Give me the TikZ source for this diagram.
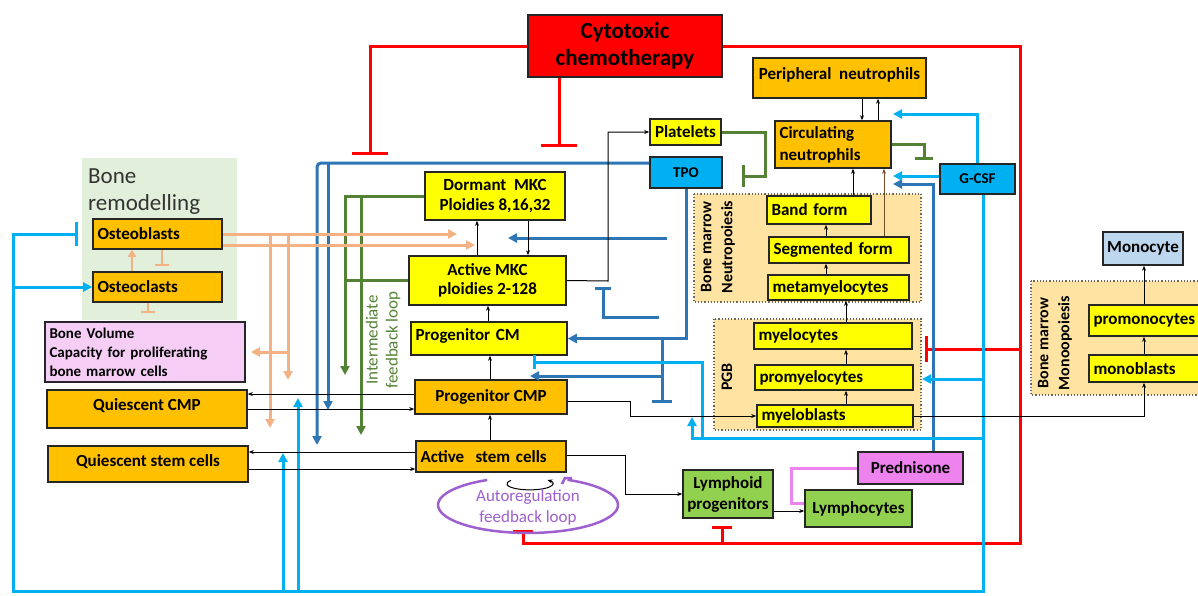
\documentclass[tikz,border=0pt]{standalone}
\usepackage{fontspec}
\setmainfont{Carlito}
\usetikzlibrary{arrows.meta,calc}
\definecolor{redC}{HTML}{FF0000}
\definecolor{orC}{HTML}{FFC000}
\definecolor{yelC}{HTML}{FFFF00}
\definecolor{cyanC}{HTML}{00B0F0}
\definecolor{sbC}{HTML}{2E75B6}
\definecolor{grC}{HTML}{548235}
\definecolor{pcC}{HTML}{F4B183}
\definecolor{lgC}{HTML}{92D050}
\definecolor{predC}{HTML}{EE82EE}
\definecolor{pinkC}{HTML}{F5CDF5}
\definecolor{monoC}{HTML}{BDD7EE}
\definecolor{boneC}{HTML}{E2EFDA}
\definecolor{bmC}{HTML}{FFE3A3}
\definecolor{puC}{HTML}{9E5FCF}
\definecolor{brdC}{HTML}{262626}
\newcommand\bx[7][]{%
  \pgfmathsetmacro\mybw{#5-#3}%
  \pgfmathsetmacro\mybh{#6-#4}%
  \pgfmathsetmacro\mycx{(#3+#5)/2}%
  \pgfmathsetmacro\mycy{(#4+#6)/2}%
  \pgfmathsetmacro\mytw{#5-#3-9}%
  \node[box,minimum width=\mybw pt,minimum height=\mybh pt,#1] (#2) at (\mycx,\mycy) {#7};}
\begin{document}
\begin{tikzpicture}[x=1pt,y=-1pt,
  box/.style={draw=brdC, line width=1.6pt, inner xsep=2pt, inner ysep=1pt, font=\bfseries\fontsize{17}{20}\selectfont, align=center, text=black},
  lt/.style={text width=\mytw pt, align=left},
  blk/.style={draw=black, line width=1pt, -{Stealth[length=5pt,width=4pt]}},
  arr/.style={-{Triangle[length=9pt,width=9pt]}},
  inh/.style={-{Bar[width=#1]}},
  rd/.style={draw=redC, line width=3pt},
  sb/.style={draw=sbC, line width=3pt},
  cy/.style={draw=cyanC, line width=3pt},
  gr/.style={draw=grC, line width=3pt},
  pc/.style={draw=pcC, line width=3pt},
  pk/.style={draw=predC, line width=3pt},
  bgbox/.style={draw=brdC!70, dotted, line width=1.2pt, fill=bmC},
  vlab/.style={rotate=90, font=\bfseries\fontsize{16}{21}\selectfont, align=center, inner sep=0pt}
]
\useasboundingbox (0,0) rectangle (1198,595);
\fill[white] (0,0) rectangle (1198,595);
% backgrounds
\fill[boneC] (82,158) rectangle (237,320);
\node[anchor=north west, align=left, inner sep=0pt, font=\fontsize{23}{27}\selectfont, text=black!80] (bonerem) at (88,169) {Bone\\remodelling};
\path[bgbox] (694,194) rectangle (921,302);
\path[bgbox] (714,319) rectangle (921,430);
\path[bgbox] (1031,281) rectangle (1210,395);
\node[vlab] (bmn) at (718,247) {Bone marrow\\Neutropoiesis};
\node[vlab] (pgb) at (727,377) {PGB};
\node[vlab] (bmm) at (1055,343) {Bone marrow\\Monoopoiesis};
\node[rotate=90, font=\fontsize{17}{20}\selectfont, align=center, text=grC, inner sep=0pt] (ifl) at (383,340) {Intermediate\\feedback loop};

% boxes
\bx[fill=redC,font=\bfseries\fontsize{23}{27}\selectfont]{chemo}{528}{15}{722}{77}{Cytotoxic\\chemotherapy}
\bx[fill=orC,lt]{osteob}{93}{219}{222}{249}{Osteoblasts}
\bx[fill=orC,lt]{osteoc}{93}{272}{222}{302}{Osteoclasts}
\bx[fill=pinkC,lt,font=\bfseries\fontsize{15}{19}\selectfont]{bonevol}{45}{322}{245}{382}{Bone Volume\\Capacity for proliferating\\bone marrow cells}
\bx[fill=orC,text depth=9pt]{qcmp}{47}{390}{247}{428}{Quiescent CMP}
\bx[fill=orC,text depth=7pt]{qsc}{48}{446}{248}{482}{Quiescent stem cells}
\bx[fill=yelC,font=\bfseries\fontsize{17}{20}\selectfont]{dmkc}{425}{172}{565}{220}{Dormant\ \ MKC\\Ploidies 8,16,32}
\bx[fill=yelC,font=\bfseries\fontsize{17}{19}\selectfont]{amkc}{409}{256}{566}{305}{Active MKC\\ploidies 2-128}
\bx[fill=yelC,lt,text depth=7pt]{pcm}{411}{322}{567}{355}{Progenitor CM}
\bx[fill=orC]{pcmp}{415}{380}{567}{414}{Progenitor CMP}
\bx[fill=orC,lt]{asc}{416}{441}{566}{472}{Active\ \ stem cells}
\bx[fill=lgC,font=\bfseries\fontsize{17}{21}\selectfont]{lymp}{683}{470}{773}{518}{Lymphoid\\progenitors}
\bx[fill=lgC]{lymc}{805}{490}{912}{527}{Lymphocytes}
\bx[fill=predC]{pred}{858}{452}{963}{484}{Prednisone}
\bx[fill=yelC]{plat}{650}{119}{721}{145}{Platelets}
\bx[fill=cyanC,font=\bfseries\fontsize{15}{17}\selectfont]{tpo}{650}{157}{722}{188}{TPO}
\bx[fill=orC,text depth=9pt]{pneu}{753}{58}{926}{98}{Peripheral\ \ neutrophils}
\bx[fill=orC,lt,font=\bfseries\fontsize{17}{22}\selectfont]{cneu}{775}{121}{891}{168}{Circulating\\neutrophils}
\bx[fill=yelC,lt]{band}{767}{196}{871}{224}{Band form}
\bx[fill=yelC,lt]{seg}{769}{237}{909}{263}{Segmented form}
\bx[fill=yelC,lt]{meta}{768}{275}{909}{300}{metamyelocytes}
\bx[fill=yelC,lt]{myelo}{754}{323}{912}{349}{myelocytes}
\bx[fill=yelC,lt]{promy}{755}{365}{913}{390}{promyelocytes}
\bx[fill=yelC,lt]{mblast}{757}{405}{913}{427}{myeloblasts}
\bx[fill=cyanC,font=\bfseries\fontsize{15}{17}\selectfont]{gcsf}{940}{164}{1015}{194}{G-CSF}
\bx[fill=monoC]{mono}{1103}{232}{1183}{265}{Monocyte}
\bx[fill=yelC,lt]{promono}{1089}{305}{1208}{336}{promonocytes}
\bx[fill=yelC,lt]{monob}{1089}{355}{1208}{382}{monoblasts}

% red
\coordinate (rT1) at (370,155);
\draw[rd,inh=36pt] (chemo.west) -| (rT1);
\coordinate (rT2) at (559,147);
\draw[rd,inh=36pt] (chemo.south -| rT2) -- (rT2);
\coordinate (rC2) at (1020,543);
\coordinate (rT3) at (523,530);
\draw[rd,inh=20pt] (chemo.east) -| (rC2) -| (rT3);
\coordinate (rL) at (722,543); \coordinate (rT4) at (722,526);
\draw[rd,inh=20pt] (rL) -- (rT4);
\coordinate (rM) at (1020,349); \coordinate (rT5) at (925,349);
\draw[rd,inh=26pt] (rM) -- (rT5);

% steel blue
\draw[sb,arr,rounded corners=4pt] (tpo.west |- 0,163) -- (317,163) -- (317,445);
\draw[sb,arr] (328,163) -- (328,410);
\coordinate (sbA) at (667,238); \coordinate (sbB) at (508,238);
\draw[sb,arr] (sbA) -- (sbB);
\coordinate (sbC1) at (659,317); \coordinate (sbT) at (603,287);
\draw[sb,inh=16pt] (sbC1) -| (sbT);
\draw[sb,arr] (tpo.south -| 686,0) |- (pcm.east);
\draw[sb,inh=20pt] (662,339) -- (662,403);
\draw[sb,arr] (662,376) -- (530,376);
\draw[sb,arr] (pred.north -| 933,0) |- (893,184);

% cyan
\draw[cy,inh=24pt] (gcsf.south -| 983,0) -- (983,591) -- (13,591) -- (13,234) -- (78,234);
\draw[cy,arr] (osteoc.west -| 13,0) -- (osteoc.west);
\draw[cy,arr] (283,591) -- (283,453);
\draw[cy,arr] (298,591) -- (298,398);
\draw[cy,arr] (gcsf.north -| 977,0) |- (893,114);
\draw[cy,arr] (gcsf.west |- 0,176) -- (893,176);
\draw[cy,arr] (983,379) -- (922,379);
\draw[cy,inh=14pt] (983,438) -| (702,362) -- (533,362);
\draw[cy,arr] (702,438) -| (692,417);

% green
\draw[gr,arr] (dmkc.west) -| (345,375);
\draw[gr,arr] (361,196) -- (361,435);
\draw[gr] (amkc.west) -- (amkc.west -| 345,0);
\draw[gr,inh=22pt] (plat.east) -| (765,176) -- (742,176);
\draw[gr,inh=18pt] (cneu.east) -| (924,160);

% peach
\draw[pc,arr] (osteob.east) -- (osteob.east -| 457,0);
\draw[pc,arr] (osteob.east |- 0,245) -- (475,245);
\draw[pc,arr] (270,234) -- (270,428);
\draw[pc,arr] (288,234) -- (288,380);
\draw[pc,arr] (288,352) -- (251,352);
\draw[pc,line width=2.5pt,-{Triangle[length=7pt,width=8pt]}] (osteoc.north -| 132,0) -- (osteob.south -| 132,0);
\draw[pc,line width=2.5pt,inh=14pt] (osteob.south -| 162,0) -- (162,266);
\draw[pc,line width=2.5pt,inh=14pt] (osteoc.south -| 148,0) -- (148,313);

% black
\draw[blk] (amkc.north -| 477,0) -- (dmkc.south -| 477,0);
\draw[blk] (dmkc.south -| 528,0) -- (amkc.north -| 528,0);
\draw[blk] (pcm.north -| 488,0) -- (amkc.south -| 488,0);
\draw[blk] (pcmp.north -| 490,0) -- (pcm.south -| 490,0);
\draw[blk] (asc.north -| 490,0) -- (pcmp.south -| 490,0);
\draw[blk] (amkc.east) -- (608,281) |- (plat.west);
\draw[blk] (pcmp.west |- 0,394) -- (qcmp.east |- 0,394);
\draw[blk] (qcmp.east |- 0,409) -- (pcmp.west |- 0,409);
\draw[blk] (asc.west |- 0,452) -- (qsc.east |- 0,452);
\draw[blk] (qsc.east |- 0,469) -- (asc.west |- 0,469);
\draw[blk] (asc.east |- 0,455) -- (625,455) |- (lymp.west);
\draw[blk] (lymp.east |- 0,511) -- (lymc.west |- 0,511);
\draw[blk] (pcmp.east |- 0,401) -- (630,401) |- (mblast.west);
\draw[blk] (mblast.east) -| (monob.south -| 1144,0);
\draw[blk] (monob.north -| 1144,0) -- (promono.south -| 1144,0);
\draw[blk] (promono.north -| 1144,0) -- (mono.south -| 1144,0);
\draw[blk] (pneu.south -| 862,0) -- (cneu.north -| 862,0);
\draw[blk] (cneu.north -| 878,0) -- (pneu.south -| 878,0);
\draw[blk] (band.north -| 853,0) -- (cneu.south -| 853,0);
\draw[blk,draw=brown!60!black] (seg.north -| 884,0) -- (cneu.south -| 884,0);
\draw[blk] (meta.north -| 826,0) -- (seg.south -| 826,0);
\draw[blk] (seg.north -| 826,0) -- (band.south -| 826,0);
\draw[blk] (myelo.north -| 846,0) -- (meta.south -| 846,0);
\draw[blk] (promy.north -| 846,0) -- (myelo.south -| 846,0);
\draw[blk] (mblast.north -| 846,0) -- (promy.south -| 846,0);
% self loop
\draw[blk] (asc.south -| 511,0) ++(0,7.6) arc[start angle=215, end angle=-40, x radius=23, y radius=6];

% autoregulation
\draw[draw=puC, line width=2.5pt] (567.5,479.8) arc[start angle=-64, end angle=243, x radius=90, y radius=28];
\draw[draw=puC, line width=2.5pt] (562,484) -- (565,478) -- (572,478);
\node[font=\fontsize{17}{21}\selectfont, text=puC, align=center, inner sep=0pt] (auto) at (528,507) {Autoregulation\\feedback loop};

% prednisone to lymphocytes
\draw[pk] (pred.west) -| (791,503) -- (lymc.west |- 0,503);
\end{tikzpicture}
\end{document}
